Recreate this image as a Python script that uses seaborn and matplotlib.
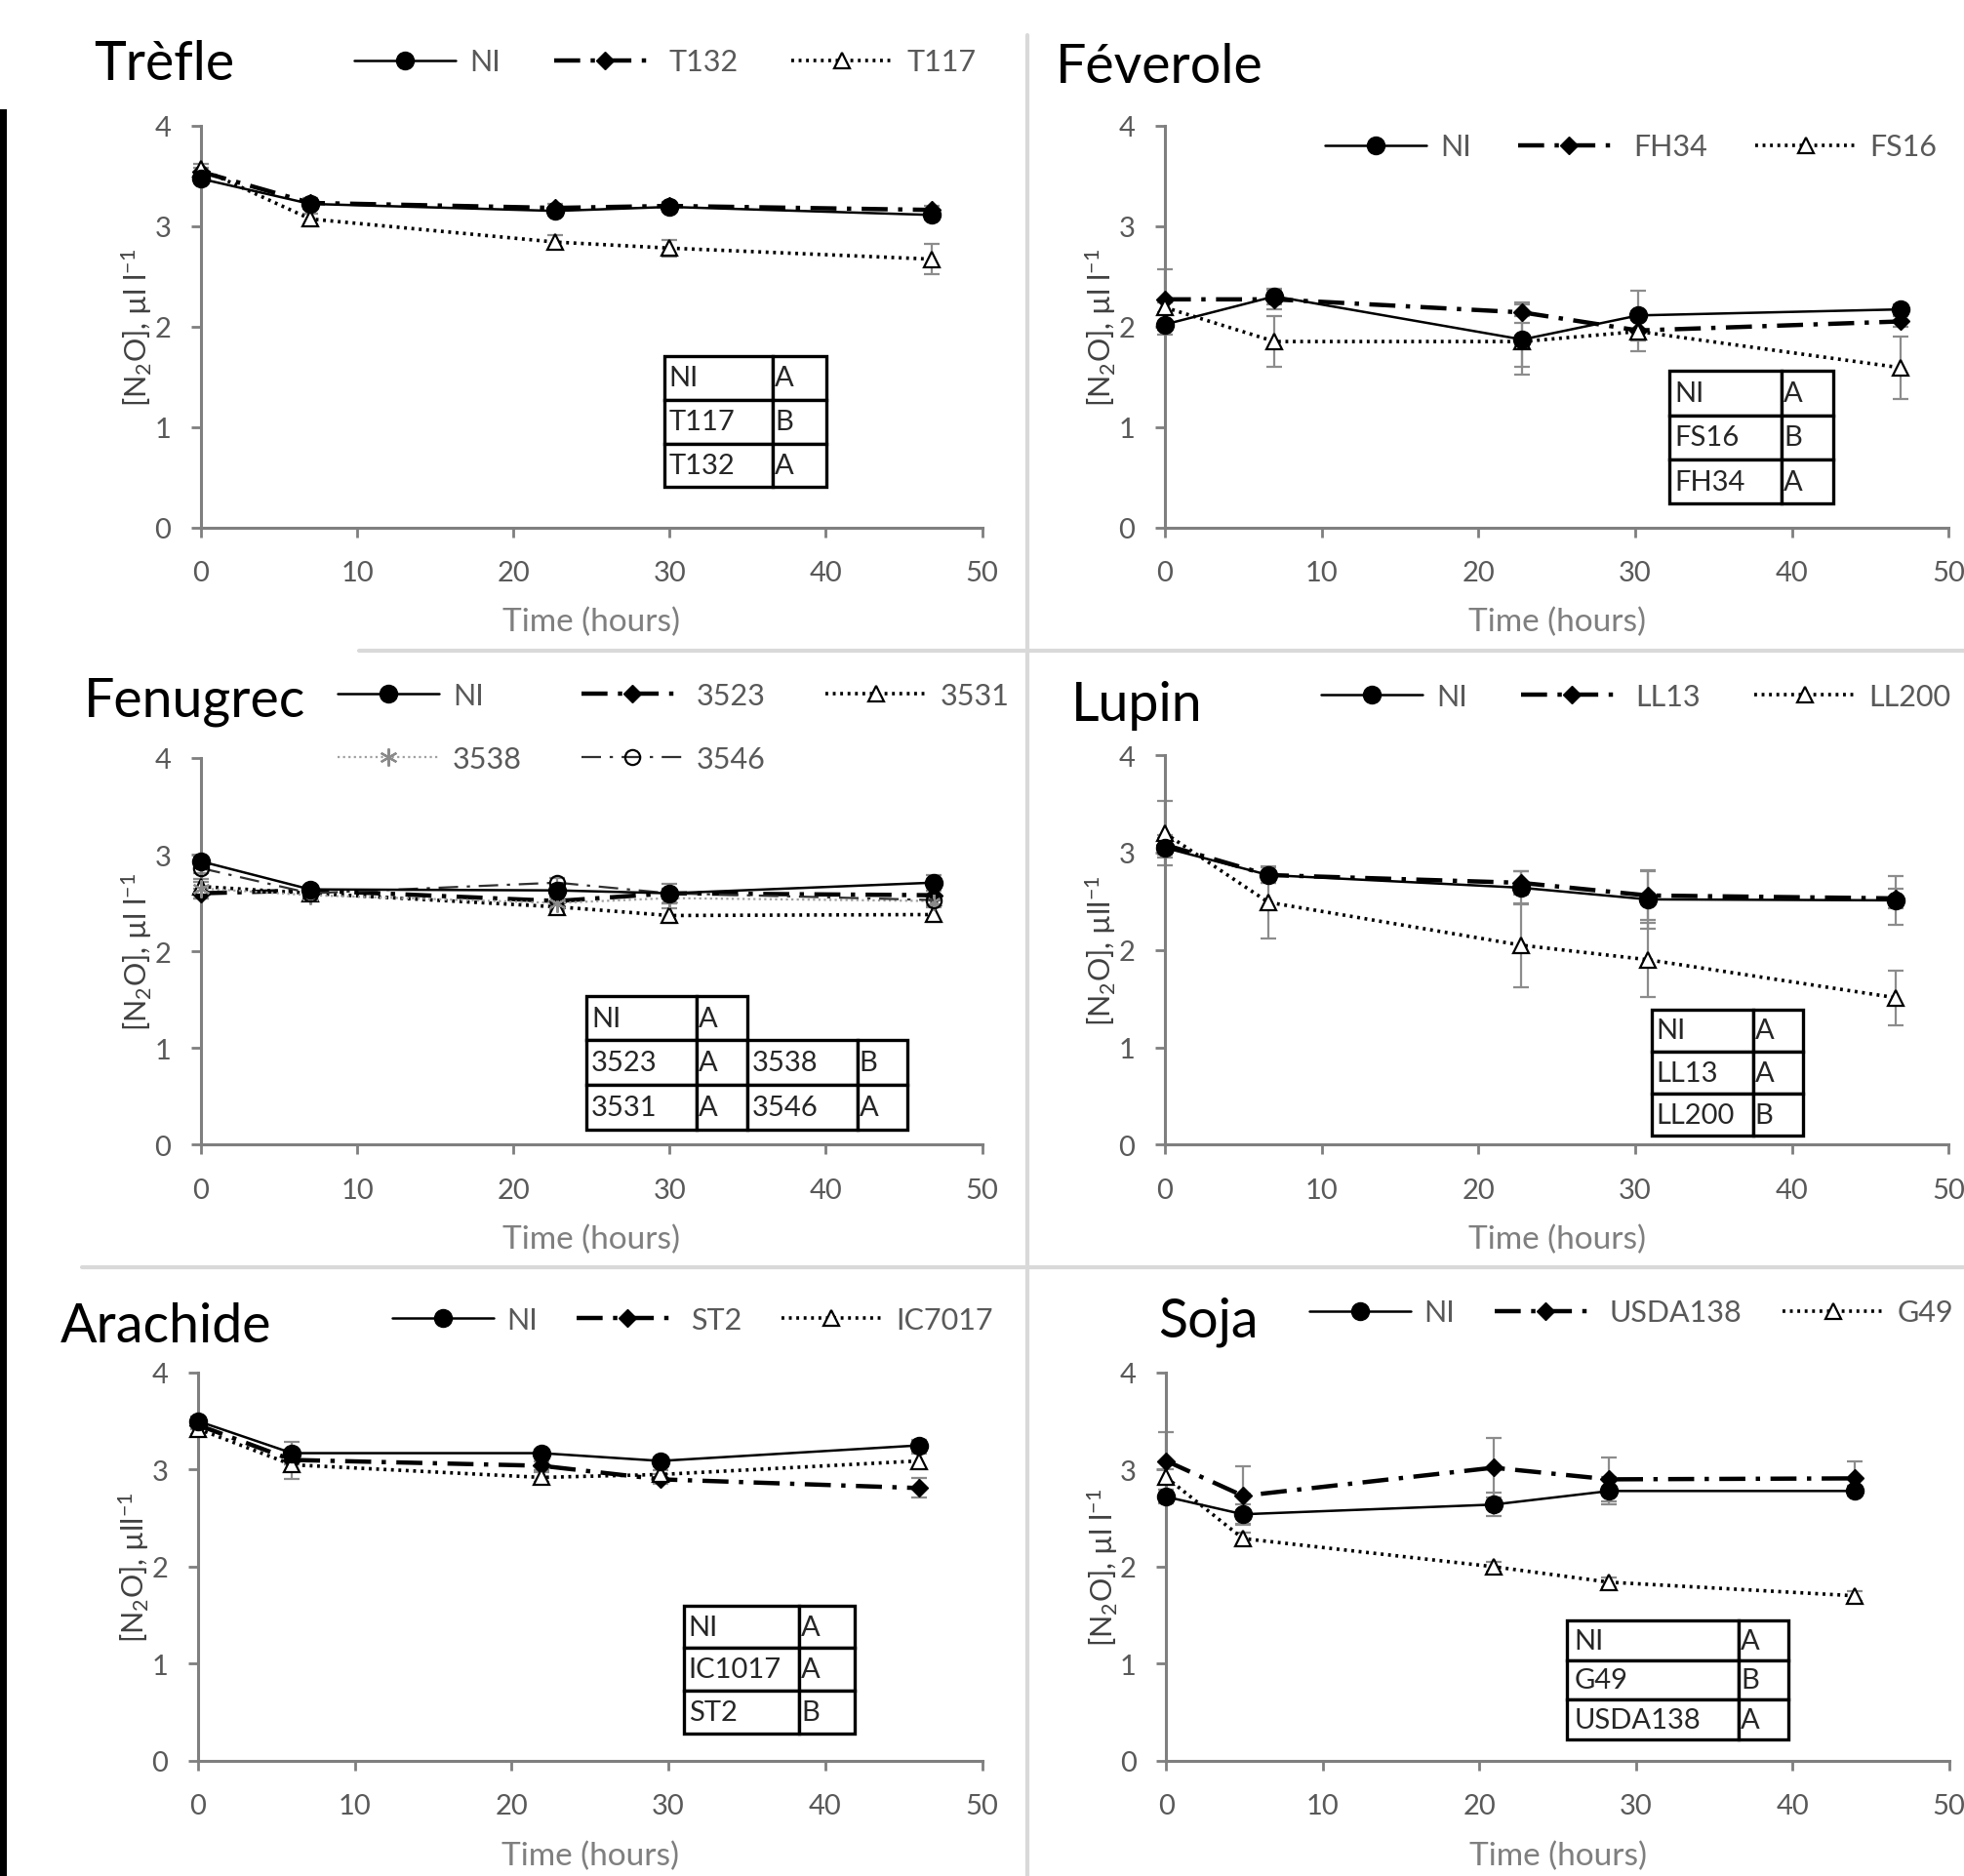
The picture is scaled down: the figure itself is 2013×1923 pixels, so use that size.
import numpy as np
import pandas as pd
import matplotlib
matplotlib.use("Agg")
import matplotlib.pyplot as plt
import seaborn as sns
from matplotlib.lines import Line2D
from matplotlib.patches import Rectangle

# ---------------- data ----------------
# Trèfle
trefle_t = [0, 7, 22.7, 30, 46.8]
trefle_NI = [3.47, 3.22, 3.15, 3.19, 3.11]
trefle_NI_err = [0.04, 0.05, 0.04, 0.04, 0.05]
trefle_T132 = [3.54, 3.23, 3.18, 3.20, 3.16]
trefle_T132_err = [0.04, 0.05, 0.04, 0.04, 0.04]
trefle_T117 = [3.57, 3.07, 2.84, 2.78, 2.67]
trefle_T117_err = [0.05, 0.05, 0.07, 0.08, 0.15]
trefle_labels = ["NI", "T132", "T117"]
trefle_table = [["NI", "A"], ["T117", "B"], ["T132", "A"]]

# Féverole
fev_t = [0, 7, 22.8, 30.2, 46.9]
fev_NI = [2.02, 2.30, 1.87, 2.11, 2.17]
fev_NI_err = [0.10, 0.08, 0.35, 0.25, 0.05]
fev_FH34 = [2.27, 2.27, 2.14, 1.96, 2.05]
fev_FH34_err = [0.30, 0.10, 0.10, 0.10, 0.05]
fev_FS16 = [2.19, 1.85, 1.85, 1.95, 1.59]
fev_FS16_err = [0.05, 0.25, 0.25, 0.20, 0.31]
fev_labels = ["NI", "FH34", "FS16"]
fev_table = [["NI", "A"], ["FS16", "B"], ["FH34", "A"]]

# Fenugrec
fen_t = [0, 7, 22.8, 30, 46.9]
fen_NI = [2.93, 2.64, 2.63, 2.60, 2.71]
fen_NI_err = [0.05, 0.04, 0.05, 0.10, 0.08]
fen_3523 = [2.60, 2.63, 2.52, 2.60, 2.58]
fen_3523_err = [0.05, 0.04, 0.05, 0.05, 0.05]
fen_3531 = [2.67, 2.60, 2.46, 2.37, 2.38]
fen_3531_err = [0.05, 0.05, 0.05, 0.08, 0.08]
fen_3538 = [2.65, 2.58, 2.50, 2.55, 2.52]
fen_3538_err = [0.10, 0.05, 0.06, 0.05, 0.05]
fen_3546 = [2.86, 2.60, 2.71, 2.60, 2.53]
fen_3546_err = [0.05, 0.04, 0.05, 0.05, 0.05]
fen_labels = ["NI", "3523", "3531", "3538", "3546"]
fen_table = [["NI", "A", "", ""], ["3523", "A", "3538", "B"], ["3531", "A", "3546", "A"]]

# Lupin
lup_t = [0, 6.6, 22.7, 30.8, 46.6]
lup_NI = [3.05, 2.77, 2.64, 2.52, 2.51]
lup_NI_err = [0.10, 0.08, 0.17, 0.30, 0.25]
lup_LL13 = [3.08, 2.77, 2.69, 2.56, 2.53]
lup_LL13_err = [0.10, 0.08, 0.12, 0.25, 0.10]
lup_LL200 = [3.20, 2.49, 2.05, 1.90, 1.51]
lup_LL200_err = [0.33, 0.37, 0.43, 0.38, 0.28]
lup_labels = ["NI", "LL13", "LL200"]
lup_table = [["NI", "A"], ["LL13", "A"], ["LL200", "B"]]

# Arachide
ara_t = [0, 6, 21.9, 29.5, 46]
ara_NI = [3.50, 3.17, 3.17, 3.09, 3.25]
ara_NI_err = [0.05, 0.12, 0.04, 0.04, 0.06]
ara_ST2 = [3.46, 3.10, 3.04, 2.90, 2.81]
ara_ST2_err = [0.04, 0.05, 0.05, 0.05, 0.10]
ara_IC7017 = [3.42, 3.05, 2.92, 2.95, 3.09]
ara_IC7017_err = [0.05, 0.15, 0.05, 0.04, 0.08]
ara_labels = ["NI", "ST2", "IC7017"]
ara_table = [["NI", "A"], ["IC1017", "A"], ["ST2", "B"]]

# Soja
soja_t = [0, 4.9, 20.9, 28.3, 44]
soja_NI = [2.72, 2.54, 2.64, 2.78, 2.78]
soja_NI_err = [0.07, 0.10, 0.12, 0.14, 0.05]
soja_USDA138 = [3.09, 2.73, 3.02, 2.90, 2.91]
soja_USDA138_err = [0.30, 0.30, 0.31, 0.23, 0.18]
soja_G49 = [2.92, 2.29, 2.00, 1.84, 1.70]
soja_G49_err = [0.08, 0.06, 0.05, 0.05, 0.05]
soja_labels = ["NI", "USDA138", "G49"]
soja_table = [["NI", "A"], ["G49", "B"], ["USDA138", "A"]]

x_ticks = [0, 10, 20, 30, 40, 50]
y_ticks = [0, 1, 2, 3, 4]

# ---------------- style ----------------
sns.set_style("ticks")
FONT = ["Lato", "DejaVu Sans"]
plt.rcParams["font.family"] = FONT
plt.rcParams["mathtext.fontset"] = "custom"
plt.rcParams["mathtext.rm"] = "Lato"
plt.rcParams["mathtext.it"] = "Lato:italic"
plt.rcParams["mathtext.bf"] = "Lato:bold"

TICK_C = "#595959"
AX_C = "#7f7f7f"

STY = [
    dict(color="black", linewidth=1.8, linestyle="-", marker="o", markersize=13,
         markerfacecolor="black", markeredgecolor="black", markeredgewidth=1),
    dict(color="black", linewidth=3.2, linestyle=(0, (6, 2.4, 1, 2.4)), marker="D", markersize=9,
         markerfacecolor="black", markeredgecolor="black", markeredgewidth=1),
    dict(color="black", linewidth=2.6, linestyle=(0, (0.8, 1.3)), marker="^", markersize=12,
         markerfacecolor="white", markeredgecolor="black", markeredgewidth=1.6),
    dict(color="#a0a0a0", linewidth=1.6, linestyle=(0, (1, 1.5)), marker=(6, 2, 0), markersize=13,
         markerfacecolor="#8a8a8a", markeredgecolor="#8a8a8a", markeredgewidth=1.6),
    dict(color="#303030", linewidth=1.6, linestyle=(0, (9, 4, 1.5, 4)), marker="o", markersize=11,
         markerfacecolor="none", markeredgecolor="black", markeredgewidth=1.6),
]

fig = plt.figure(figsize=(20.13, 19.24), dpi=100)

panels = [
    dict(title="Trèfle", t=trefle_t, series=[trefle_NI, trefle_T132, trefle_T117],
         errs=[trefle_NI_err, trefle_T132_err, trefle_T117_err], labels=trefle_labels,
         table=trefle_table, rect=[0.1023, 0.7185, 0.3977, 0.2141],
         title_xy=(0.0478, 0.9573), leg_xy=(0.1805, 0.9666), colsp=1.8,
         tbox=[0.593, 0.10, 0.208, 0.327], tcols=[87, 43], ylab="[N$_2$O], µl l$^{-1}$"),
    dict(title="Féverole", t=fev_t, series=[fev_NI, fev_FH34, fev_FS16],
         errs=[fev_NI_err, fev_FH34_err, fev_FS16_err], labels=fev_labels,
         table=fev_table, rect=[0.5931, 0.7185, 0.3992, 0.2141],
         title_xy=(0.5376, 0.9560), leg_xy=(0.6747, 0.9213), colsp=1.6,
         tbox=[0.644, 0.059, 0.208, 0.330], tcols=[89, 41], ylab="[N$_2$O], µl l$^{-1}$"),
    dict(title="Fenugrec", t=fen_t, series=[fen_NI, fen_3523, fen_3531, fen_3538, fen_3546],
         errs=[fen_NI_err, fen_3523_err, fen_3531_err, fen_3538_err, fen_3546_err],
         labels=fen_labels, table=fen_table, rect=[0.1023, 0.3896, 0.3977, 0.2061],
         title_xy=(0.0427, 0.6184), leg_xy=(0.172, 0.6121), colsp=2.0,
         tbox=[0.494, 0.039, 0.410, 0.346], tcols=[88, 41, 88, 40], ylab="[N$_2$O], µl l$^{-1}$"),
    dict(title="Lupin", t=lup_t, series=[lup_NI, lup_LL13, lup_LL200],
         errs=[lup_NI_err, lup_LL13_err, lup_LL200_err], labels=lup_labels,
         table=lup_table, rect=[0.5931, 0.3896, 0.3992, 0.2075],
         title_xy=(0.5453, 0.6157), leg_xy=(0.6728, 0.6284), colsp=1.8,
         tbox=[0.621, 0.0225, 0.193, 0.3245], tcols=[81, 40], ylab="[N$_2$O], µll$^{-1}$"),
    dict(title="Arachide", t=ara_t, series=[ara_NI, ara_ST2, ara_IC7017],
         errs=[ara_NI_err, ara_ST2_err, ara_IC7017_err], labels=ara_labels,
         table=ara_table, rect=[0.1008, 0.0614, 0.3992, 0.2068],
         title_xy=(0.0306, 0.2849), leg_xy=(0.1996, 0.2962), colsp=1.3,
         tbox=[0.620, 0.071, 0.217, 0.329], tcols=[92, 44], ylab="[N$_2$O], µll$^{-1}$"),
    dict(title="Soja", t=soja_t, series=[soja_NI, soja_USDA138, soja_G49],
         errs=[soja_NI_err, soja_USDA138_err, soja_G49_err], labels=soja_labels,
         table=soja_table, rect=[0.5938, 0.0614, 0.3986, 0.2068],
         title_xy=(0.5899, 0.2875), leg_xy=(0.6665, 0.3002), colsp=1.35,
         tbox=[0.512, 0.055, 0.283, 0.306], tcols=[137, 40], ylab="[N$_2$O], µl l$^{-1}$"),
]

for p in panels:
    ax = fig.add_axes(p["rect"])
    t = np.asarray(p["t"], dtype=float)
    for i, (vals, err) in enumerate(zip(p["series"], p["errs"])):
        st = STY[i]
        ax.errorbar(t, vals, yerr=err, fmt="none", ecolor="#8c8c8c", elinewidth=1.6,
                    capsize=6, capthick=1.6, zorder=2, clip_on=False)
        df = pd.DataFrame({"time": t, "n2o": vals})
        sns.lineplot(data=df, x="time", y="n2o", ax=ax, errorbar=None, legend=False,
                     zorder=3 + (0 if i > 0 else 1), clip_on=False, **st)
    ax.set_xlim(0, 50)
    ax.set_ylim(0, 4)
    ax.set_xticks(x_ticks)
    ax.set_yticks(y_ticks)
    sns.despine(ax=ax)
    for s in ["left", "bottom"]:
        ax.spines[s].set_color(AX_C)
        ax.spines[s].set_linewidth(2.2)
    ax.tick_params(axis="both", direction="out", length=7, width=2.0, color=AX_C,
                   labelcolor=TICK_C, labelsize=21)
    ax.tick_params(axis="x", pad=17)
    ax.tick_params(axis="y", pad=15)
    ax.set_xlabel("Time (hours)", fontsize=24, color="#7f7f7f", labelpad=16)
    ax.set_ylabel(p["ylab"], fontsize=22, color="#404040", labelpad=0)
    ax.patch.set_alpha(0)

    # legend
    handles = [Line2D([], [], **STY[i]) for i in range(len(p["labels"]))]
    labels = list(p["labels"])
    if len(handles) == 5:
        order = [0, 3, 1, 4, 2]
        handles = [handles[k] for k in order]
        labels = [labels[k] for k in order]
    fig.legend(handles, labels, loc="center left", bbox_to_anchor=p["leg_xy"],
               bbox_transform=fig.transFigure, ncol=3, frameon=False,
               handlelength=3.4, handletextpad=0.45, columnspacing=p["colsp"],
               labelspacing=1.2, borderpad=0, borderaxespad=0, fontsize=22,
               labelcolor=TICK_C)

    # title
    fig.text(p["title_xy"][0], p["title_xy"][1], p["title"], fontsize=40,
             color="black", ha="left", va="baseline")

    # stats table
    tb = ax.table(cellText=p["table"], colWidths=p["tcols"], cellLoc="left",
                  bbox=p["tbox"])
    tb.auto_set_font_size(False)
    tb.set_fontsize(21)
    for (r, c), cell in tb.get_celld().items():
        cell.set_edgecolor("black")
        cell.set_linewidth(2.4)
        cell.PAD = 0.04
        cell.get_text().set_color("#262626")
        if p["table"][r][c] == "" and r == 0:
            cell.visible_edges = "open"
    tb.set_zorder(5)

# decorations: separators and left bar
fig.add_artist(Line2D([0.523, 0.523], [0.0, 0.981], transform=fig.transFigure,
                      color="#d9d9d9", linewidth=3))
fig.add_artist(Line2D([0.183, 1.0], [0.6528, 0.6528], transform=fig.transFigure,
                      color="#d9d9d9", linewidth=3))
fig.add_artist(Line2D([0.0417, 1.0], [0.3243, 0.3243], transform=fig.transFigure,
                      color="#d9d9d9", linewidth=3))
fig.add_artist(Rectangle((0, 0), 0.0036, 0.9413, transform=fig.transFigure,
                         color="black", linewidth=0))

fig.savefig("out.png", dpi=100)
